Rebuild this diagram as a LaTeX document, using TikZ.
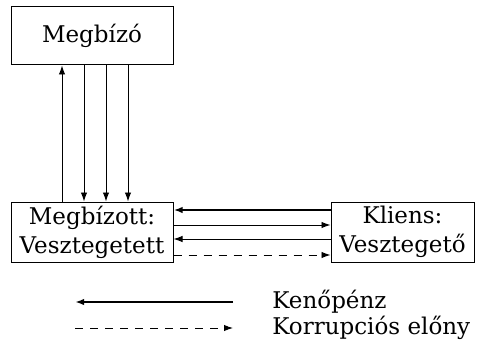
\documentclass[tikz,border=0pt]{standalone}
\usepackage{fontspec}
\setmainfont{DejaVu Serif}
\usetikzlibrary{arrows.meta,positioning}
\tikzset{
  doboz/.style={draw, line width=0.5pt, align=center, inner sep=0pt},
  nyil/.style={-{Latex[length=4.5pt,width=3.2pt]}, line width=0.45pt},
  kenopenz/.style={nyil, line width=1.1pt},
  elony/.style={nyil, dashed, dash pattern=on 4pt off 3.5pt}
}
\begin{document}
\begin{tikzpicture}[x=0.5pt,y=-0.5pt, font=\fontsize{11.5}{14.5}\selectfont]
  \useasboundingbox (0,0) rectangle (485,352);
  % dobozok
  \node[doboz, minimum width=81pt, minimum height=29pt] (megbizo) at (92,36) {Megbízó};
  \node[doboz, minimum width=81pt, minimum height=30pt] (megbizott) at (92,232) {Megbízott:\\Vesztegetett};
  \node[doboz, minimum width=71.5pt, minimum height=30pt] (kliens) at (402.5,232) {Kliens:\\Vesztegető};
  % fuggoleges nyilak
  \draw[nyil] (megbizott.north -| 62,0) -- (megbizo.south -| 62,0);
  \foreach \x in {84,106,128}
    \draw[nyil] (megbizo.south -| \x,0) -- (megbizott.north -| \x,0);
  % vizszintes nyilak
  \draw[kenopenz] (kliens.west |- 0,210) -- (megbizott.east |- 0,210);
  \draw[nyil] (megbizott.east |- 0,225) -- (kliens.west |- 0,225);
  \draw[nyil] (kliens.west |- 0,239) -- (megbizott.east |- 0,239);
  \draw[elony] (megbizott.east |- 0,255) -- (kliens.west |- 0,255);
  % jelmagyarazat
  \node[anchor=west, inner sep=0pt] (kenopenzfelirat) at (272,302) {Kenőpénz};
  \node[anchor=west, inner sep=0pt] (elonyfelirat) at (272,328) {Korrupciós előny};
  \coordinate (k1) at (75,302);
  \coordinate (k2) at (233,302);
  \coordinate (e1) at (75,328);
  \coordinate (e2) at (233,328);
  \draw[kenopenz] (k2) -- (k1);
  \draw[elony] (e1) -- (e2);
\end{tikzpicture}
\end{document}
